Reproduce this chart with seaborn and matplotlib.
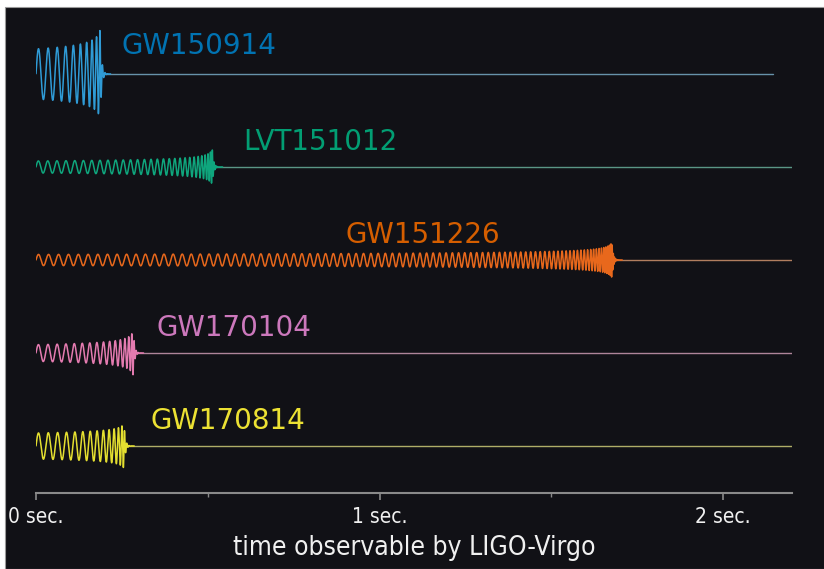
import numpy as np
import pandas as pd
import matplotlib.pyplot as plt
import seaborn as sns
from matplotlib.patches import Rectangle
from matplotlib.colors import to_rgb

# events, top row first
events = ['GW150914', 'LVT151012', 'GW151226', 'GW170104', 'GW170814']
text_colors = ['#0173B2', '#029E73', '#D55E00', '#CC78BC', '#ECE133']
wave_colors = ['#2f9bd6', '#0fa67d', '#e8681c', '#e47bb0', '#e4df30']
merger_t = [0.187, 0.513, 1.676, 0.283, 0.256]   # seconds after start
f_start = [34, 36, 34, 35, 34]                     # Hz at 0 sec.
amp_start = [0.27, 0.065, 0.06, 0.09, 0.14]        # in row spacings
amp_peak = [0.48, 0.19, 0.19, 0.24, 0.24]
trace_end = [2.146, 2.2, 2.2, 2.2, 2.2]
label_t = [0.25, 0.603, 0.90, 0.35, 0.332]
label_dy = [0.30, 0.27, 0.27, 0.27, 0.27]
rows = [4, 3, 2, 1, 0]

tick_pos = [0, 1, 2]
tick_text = ['0 sec.', '1 sec.', '2 sec.']
minor_pos = [0.5, 1.5]
x_title = 'time observable by LIGO-Virgo'

BG = '#111116'


def chirp(tc, f0, a0, a1, rate=20000, d=0.005, ring=0.004, tail=0.03):
    # simple inspiral model: f ~ tau^(-3/8), then quick ringdown
    t = np.arange(0, tc + tail, 1 / rate)
    T = tc + d
    tau = np.clip(T - t, d, None)
    f = f0 * (tau / T) ** -0.375
    phase = 2 * np.pi * np.cumsum(f) / rate
    f_end = f0 * (d / T) ** -0.375
    p = np.log(a1 / a0) / np.log(f_end / f0)
    amp = a0 * (f / f0) ** p
    post = t > tc
    amp[post] = a1 * np.exp(-(t[post] - tc) / ring)
    return t, amp * np.sin(phase)


sns.set_theme(style='dark')
plt.rcParams['font.family'] = ['DejaVu Sans']

fig = plt.figure(figsize=(8.24, 5.69), dpi=100)
fig.patch.set_facecolor('white')
fig.add_artist(Rectangle((5 / 824, 0), 1, 562 / 569, transform=fig.transFigure,
                         facecolor=BG, edgecolor='#9a9a9a', lw=0.8, zorder=0))

ax = fig.add_axes([36 / 824, 76 / 569, 756 / 824, 486 / 569])
ax.set_facecolor(BG)
ax.patch.set_alpha(0)

for i, name in enumerate(events):
    t, h = chirp(merger_t[i], f_start[i], amp_start[i], amp_peak[i])
    df = pd.DataFrame({'t': t, 'h': rows[i] + h})
    flat_col = 0.4 * np.array(to_rgb(wave_colors[i])) + 0.6 * np.array(to_rgb('#8c8c8c'))
    sns.lineplot(x=[merger_t[i], trace_end[i]], y=[rows[i], rows[i]], ax=ax,
                 color=flat_col, lw=1.0)
    sns.lineplot(data=df, x='t', y='h', ax=ax, color=wave_colors[i], lw=1.1,
                 estimator=None, sort=False)
    ax.text(label_t[i], rows[i] + label_dy[i], name, color=text_colors[i],
            fontsize=20, ha='left', va='center')

ax.set_xlim(0, 2.2)
ax.set_ylim(-0.505, 4.72)
ax.grid(False)
for s in ['left', 'top', 'right']:
    ax.spines[s].set_visible(False)
ax.spines['bottom'].set_color('#8a8a8a')
ax.spines['bottom'].set_linewidth(1.5)
ax.set_yticks([])
ax.set_ylabel('')
ax.set_xticks(tick_pos)
ax.set_xticklabels(tick_text, fontstretch='condensed')
ax.set_xticks(minor_pos, minor=True)
ax.tick_params(axis='x', which='major', direction='out', length=5, width=1.2,
               color='#8a8a8a', labelcolor='#f0f0f0', labelsize=15, pad=5, bottom=True)
ax.tick_params(axis='x', which='minor', direction='out', length=3, width=1.0,
               color='#8a8a8a', bottom=True)
ax.set_xlabel(x_title, color='#f0f0f0', fontsize=19, labelpad=6,
              fontstretch='condensed')

fig.savefig('out.png', dpi=100, facecolor=fig.get_facecolor())
